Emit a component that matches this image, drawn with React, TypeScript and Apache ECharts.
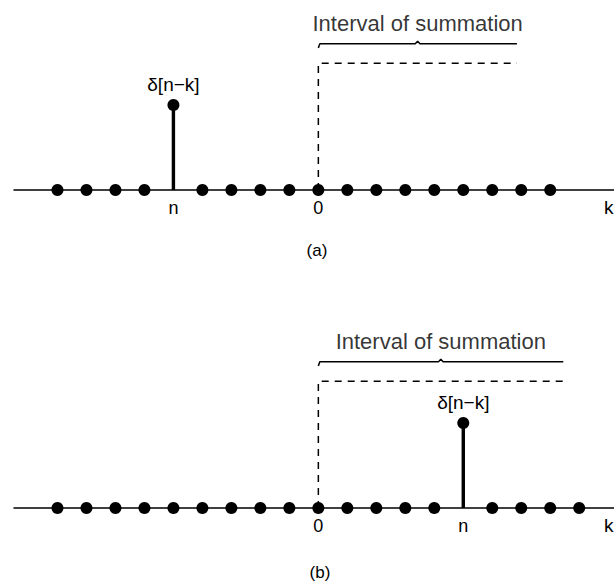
import React, { useEffect, useRef } from "react";
import * as echarts from "echarts";

const FONT = "'Liberation Sans', Arial, Helvetica, sans-serif";

// sample positions k that carry a zero-valued dot on the axis
const dotsA = [-9, -8, -7, -6, -4, -3, -2, -1, 0, 1, 2, 3, 4, 5, 6, 7, 8];
const dotsB = [-9, -8, -7, -6, -5, -4, -3, -2, -1, 0, 1, 2, 3, 4, 6, 7, 8, 9];
// position of the impulse delta[n-k] (k = n)
const nA = -5;
const nB = 5;
const deltaAmp = 1;
// dashed step (u[k]) level and summation brace level
const stepLevel = 1.49;
const braceLevel = 1.72;
const braceHook = 1.67;
const bracePeak = 1.75;
// right end of the interval of summation as drawn
const intervalEndA = 6.85;
const intervalEndB = 8.45;
// tick labels
const tickLabels = { zero: "0", n: "n" };
const axisName = "k";
const deltaLabel = "δ[n−k]";
const intervalLabel = "Interval of summation";
const captions = ["(a)", "(b)"];

const X_MIN = -10.5;
const X_MAX = 10.2;
const Y_MIN = 0;
const Y_MAX = 2.2;

function panelSeries(idx: number, dots: number[], n: number, intervalEnd: number) {
  const mid = intervalEnd / 2;
  const common = { xAxisIndex: idx, yAxisIndex: idx, silent: true };
  return [
    {
      ...common,
      type: "line",
      clip: false,
      data: [
        [0, 0],
        [0, stepLevel],
        [intervalEnd, stepLevel],
      ],
      symbol: "none",
      lineStyle: { color: "#000", width: 1.5, type: [7, 6] },
      z: 2,
    },
    {
      ...common,
      type: "line",
      clip: false,
      data: [
        [0, braceHook],
        [0.05, braceLevel],
        [mid - 0.08, braceLevel],
        [mid, bracePeak],
        [mid + 0.08, braceLevel],
        [intervalEnd, braceLevel],
      ],
      symbol: "none",
      lineStyle: { color: "#000", width: 1.5 },
      z: 2,
    },
    {
      ...common,
      type: "scatter",
      clip: false,
      data: [
        {
          value: [mid, braceLevel],
          label: {
            show: true,
            position: "top",
            distance: 9,
            formatter: intervalLabel,
            color: "#000",
            fontFamily: FONT,
            fontSize: 22,
          },
        },
      ],
      symbolSize: 0,
      z: 2,
    },
    {
      ...common,
      type: "line",
      clip: false,
      data: [
        [n, 0],
        [n, deltaAmp],
      ],
      symbol: "none",
      lineStyle: { color: "#000", width: 3.4 },
      z: 3,
    },
    {
      ...common,
      type: "scatter",
      clip: false,
      data: [
        {
          value: [n, deltaAmp],
          label: {
            show: true,
            position: "top",
            distance: 5,
            formatter: deltaLabel,
            color: "#000",
            fontFamily: FONT,
            fontSize: 19,
          },
        },
      ],
      symbolSize: 12,
      itemStyle: { color: "#000", opacity: 1 },
      z: 4,
    },
    {
      ...common,
      type: "scatter",
      clip: false,
      data: dots.map((k) => [k, 0]),
      symbolSize: 12,
      itemStyle: { color: "#000", opacity: 1 },
      z: 4,
    },
  ];
}

function xAxisFor(idx: number, n: number, nameGap: number) {
  return {
    type: "value",
    gridIndex: idx,
    min: X_MIN,
    max: X_MAX,
    name: axisName,
    nameLocation: "end",
    nameGap,
    nameTextStyle: {
      color: "#000",
      fontFamily: FONT,
      fontSize: 19,
      align: "left",
      verticalAlign: "top",
      padding: [8, 0, 0, 0],
    },
    splitLine: { show: false },
    axisTick: { show: false },
    axisLine: { show: true, onZero: true, lineStyle: { color: "#000", width: 1.5 } },
    axisLabel: {
      show: true,
      customValues: [n, 0],
      margin: 9,
      color: "#000",
      fontFamily: FONT,
      fontSize: 18,
      formatter: (v: number) => (v === 0 ? tickLabels.zero : tickLabels.n),
    },
  };
}

function yAxisFor(idx: number) {
  return {
    type: "value",
    gridIndex: idx,
    min: Y_MIN,
    max: Y_MAX,
    show: false,
    splitLine: { show: false },
  };
}

export default function App() {
  const ref = useRef<HTMLDivElement>(null);
  useEffect(() => {
    if (!ref.current) return;
    const chart = echarts.init(ref.current, null, { renderer: "svg" });
    chart.setOption({
      animation: false,
      backgroundColor: "#fff",
      grid: [
        { left: 14, right: 0, top: 3, height: 187, outerBoundsMode: "none", containLabel: false },
        { left: 14, right: 0, top: 321, height: 187, outerBoundsMode: "none", containLabel: false },
      ],
      xAxis: [xAxisFor(0, nA, -10), xAxisFor(1, nB, -10)],
      yAxis: [yAxisFor(0), yAxisFor(1)],
      series: [
        ...panelSeries(0, dotsA, nA, intervalEndA),
        ...panelSeries(1, dotsB, nB, intervalEndB),
      ],
      graphic: [
        {
          type: "text",
          x: 317,
          y: 250,
          style: {
            text: captions[0],
            fill: "#000",
            font: `17px ${FONT}`,
            align: "center",
            verticalAlign: "middle",
          },
        },
        {
          type: "text",
          x: 320,
          y: 572,
          style: {
            text: captions[1],
            fill: "#000",
            font: `17px ${FONT}`,
            align: "center",
            verticalAlign: "middle",
          },
        },
      ],
    });
    return () => chart.dispose();
  }, []);
  return (
    <div
      ref={ref}
      style={{ position: "fixed", left: 0, top: 0, width: 614, height: 586, background: "#fff" }}
    />
  );
}
